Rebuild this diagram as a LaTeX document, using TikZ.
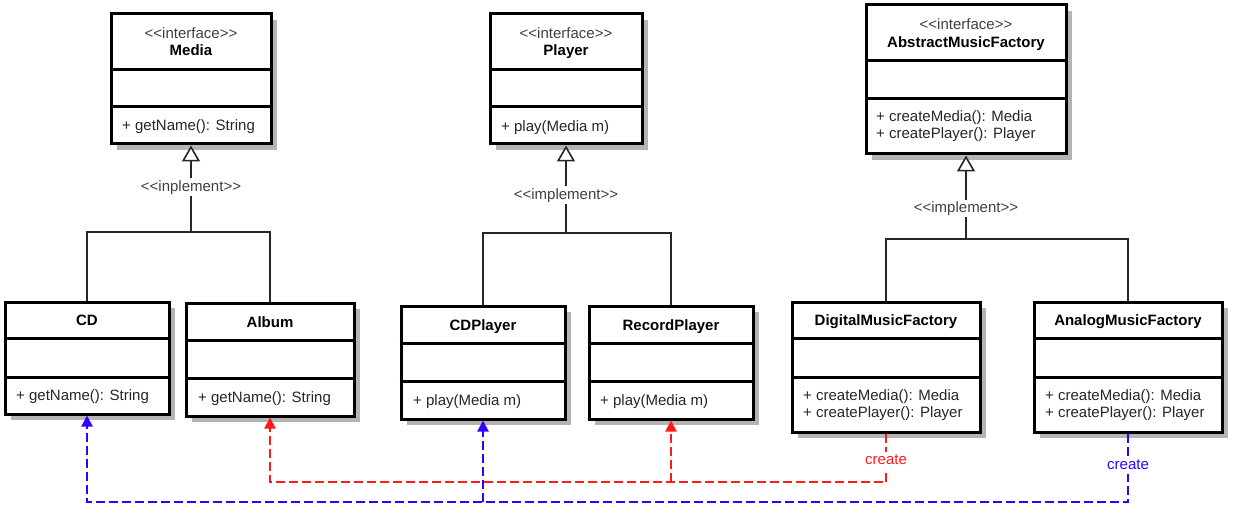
\documentclass[tikz,border=0pt]{standalone}
\usepackage{fontspec}
\setmainfont{Liberation Sans}[Ligatures=TeXOff]
\usetikzlibrary{arrows.meta,shadows}
\definecolor{shadowgray}{HTML}{B4B4B4}
\definecolor{cblue}{HTML}{3300FF}
\definecolor{cred}{HTML}{FF1A1A}
\definecolor{stgray}{HTML}{404040}
\definecolor{methcol}{HTML}{262626}
\tikzset{
  classbox/.style={draw=black, line width=3pt, fill=white, inner sep=0pt,
    drop shadow={shadow xshift=6pt, shadow yshift=-6pt, fill=shadowgray, opacity=1}},
  divider/.style={line width=3pt},
  stereo/.style={inner sep=0pt, text=stgray, anchor=base},
  titletext/.style={inner sep=0pt, font=\fontsize{15}{17}\selectfont\bfseries, anchor=base},
  meth/.style={inner sep=0pt, text=methcol, anchor=base west},
  conn/.style={line width=2pt, draw=black!85},
  gen/.style={conn, -{Triangle[open, length=16pt, width=18pt, fill=white, line width=1.6pt]}},
  lbl/.style={fill=white, inner sep=1.5pt, text=stgray, text height=11pt, text depth=3pt},
  bdash/.style={line width=2pt, draw=cblue, dash pattern=on 9pt off 4pt},
  rdash/.style={line width=2pt, draw=cred, dash pattern=on 9pt off 4pt},
  btip/.style={-{Triangle[length=11pt, width=11pt, fill=cblue]}},
  rtip/.style={-{Triangle[length=11pt, width=11pt, fill=cred]}},
}
\newcommand\umlbox[5]{%
  \node[classbox, minimum width={#4pt-#2pt}, minimum height={#5pt-#3pt}]
    (#1) at ({(#2+#4)/2},{(#3+#5)/2}) {};}
\newcommand\udiv[2]{\draw[divider] (#1.west |- 0,#2) -- (#1.east |- 0,#2);}
\begin{document}
\begin{tikzpicture}[x=1pt, y=-1pt, font=\fontsize{15}{17}\selectfont]
\useasboundingbox (0,0) rectangle (1241,513);

% ---------- class boxes ----------
\umlbox{media}{111}{14}{271}{144}
\umlbox{player}{490}{14}{642}{144}
\umlbox{amf}{866}{5}{1066}{154}
\umlbox{cd}{5}{302}{169}{414}
\umlbox{album}{186}{303}{354}{416}
\umlbox{cdp}{401}{306}{565}{419}
\umlbox{rp}{589}{306}{753}{419}
\umlbox{dmf}{792}{302}{980}{432}
\umlbox{anmf}{1034}{302}{1222}{432}

\udiv{media}{70}\udiv{media}{107}
\udiv{player}{70}\udiv{player}{107}
\udiv{amf}{61}\udiv{amf}{99}
\udiv{cd}{338}\udiv{cd}{377}
\udiv{album}{340}\udiv{album}{378}
\udiv{cdp}{343}\udiv{cdp}{381}
\udiv{rp}{343}\udiv{rp}{381}
\udiv{dmf}{338}\udiv{dmf}{377}
\udiv{anmf}{338}\udiv{anmf}{377}

% ---------- texts ----------
\node[stereo] (media-st) at (191,39) {<<interface>>};
\node[titletext] (media-t) at (191,56) {Media};
\node[meth] (media-m) at (122,131) {+ getName(): String};

\node[stereo] (player-st) at (566,39) {<<interface>>};
\node[titletext] (player-t) at (566,56) {Player};
\node[meth] (player-m) at (501,132) {+ play(Media m)};

\node[stereo] (amf-st) at (966,30) {<<interface>>};
\node[titletext] (amf-t) at (966,48) {AbstractMusicFactory};
\node[meth] (amf-m1) at (876,122) {+ createMedia(): Media};
\node[meth] (amf-m2) at (876,139) {+ createPlayer(): Player};

\node[titletext] (cd-t) at (87,325) {CD};
\node[meth] (cd-m) at (16,400) {+ getName(): String};

\node[titletext] (album-t) at (270,327) {Album};
\node[meth] (album-m) at (198,402) {+ getName(): String};

\node[titletext] (cdp-t) at (483,330) {CDPlayer};
\node[meth] (cdp-m) at (413,405) {+ play(Media m)};

\node[titletext] (rp-t) at (671,330) {RecordPlayer};
\node[meth] (rp-m) at (600,405) {+ play(Media m)};

\node[titletext] (dmf-t) at (886,325) {DigitalMusicFactory};
\node[meth] (dmf-m1) at (803,400) {+ createMedia(): Media};
\node[meth] (dmf-m2) at (803,417) {+ createPlayer(): Player};

\node[titletext] (anmf-t) at (1128,325) {AnalogMusicFactory};
\node[meth] (anmf-m1) at (1045,400) {+ createMedia(): Media};
\node[meth] (anmf-m2) at (1045,417) {+ createPlayer(): Player};

% ---------- generalizations ----------
\coordinate (mj) at (191,232);
\draw[conn] (cd.north) |- (mj) -| (album.north);
\draw[gen] (mj) -- (media.south);
\node[lbl] (media-impl) at (191,187) {<<inplement>>};

\coordinate (pj) at (566,233);
\draw[conn] (cdp.north) |- (pj) -| (rp.north);
\draw[gen] (pj) -- (player.south);
\node[lbl] (player-impl) at (566,195) {<<implement>>};

\coordinate (aj) at (966,239);
\draw[conn] (dmf.north) |- (aj) -| (anmf.north);
\draw[gen] (aj) -- (amf.south);
\node[lbl] (amf-impl) at (966,208) {<<implement>>};

% ---------- create dependencies ----------
\coordinate (bcorner) at (anmf.south |- 0,502);
\coordinate (bj) at (cdp.south |- 0,502);
\draw[bdash, btip] (anmf.south) -- (bcorner) -| (cd.south);
\draw[bdash, btip] (bj) -- (cdp.south);
\node[lbl, text=cblue] (anmf-create) at (1128,465) {create};

\coordinate (rcorner) at (dmf.south |- 0,482);
\coordinate (rj) at (rp.south |- 0,482);
\draw[rdash, rtip] (dmf.south) -- (rcorner) -| (album.south);
\draw[rdash, rtip] (rj) -- (rp.south);
\node[lbl, text=cred] (dmf-create) at (886,460) {create};
\end{tikzpicture}
\end{document}
